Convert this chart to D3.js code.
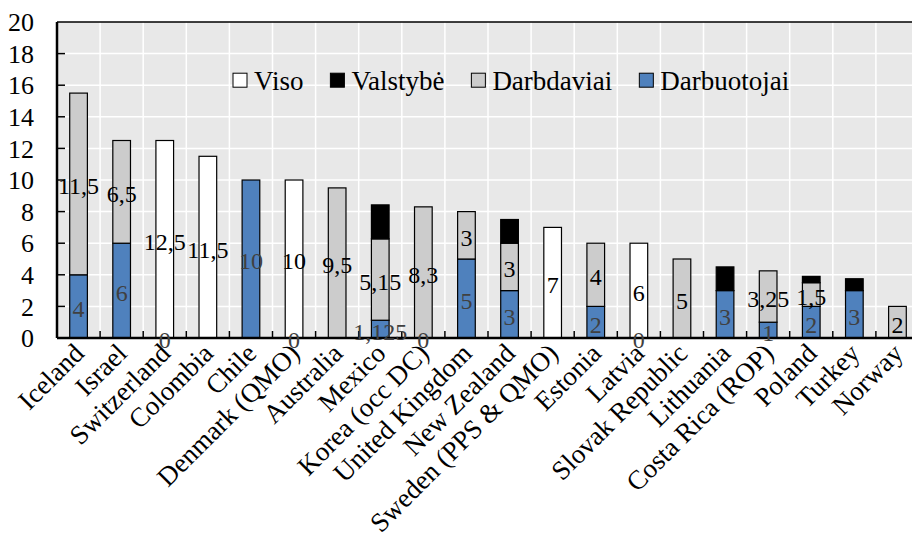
<!DOCTYPE html>
<html>
<head>
<meta charset="utf-8">
<script src="https://cdn.jsdelivr.net/npm/d3@7"></script>
<style>
  body { margin: 0; background: #fff; }
  svg { display: block; }
  svg text { font-family: "Liberation Serif", "Times New Roman", serif; }
</style>
</head>
<body>
<svg></svg>
<script>
// Chart data (null = no bar / no label)
var categories = ["Iceland", "Israel", "Switzerland", "Colombia", "Chile", "Denmark (QMO)",
  "Australia", "Mexico", "Korea (occ DC)", "United Kingdom", "New Zealand",
  "Sweden (PPS & QMO)", "Estonia", "Latvia", "Slovak Republic", "Lithuania",
  "Costa Rica (ROP)", "Poland", "Turkey", "Norway"];

var darbuotojai = [4, 6, 0, null, 10, 0, null, 1.125, 0, 5, 3, null, 2, 0, null, 3, 1, 2, 3, null];
var darbdaviai  = [11.5, 6.5, null, null, null, null, 9.5, 5.15, 8.3, 3, 3, null, 4, null, 5, null, 3.25, 1.5, null, 2];
var valstybe    = [null, null, null, null, null, null, null, 2.15, null, null, 1.5, null, null, null, null, 1.5, null, 0.4, 0.75, null];
var viso        = [null, null, 12.5, 11.5, null, 10, null, null, null, null, null, 7, null, 6, null, null, null, null, null, null];

var yTicks = [0, 2, 4, 6, 8, 10, 12, 14, 16, 18, 20];

// stacking order bottom -> top, legend shows it reversed
var series = [
  { name: "Darbuotojai", values: darbuotojai, fill: "#4f81bd", label: "#404040" },
  { name: "Darbdaviai",  values: darbdaviai,  fill: "#cccccc", label: "#000" },
  { name: "Valstybė",    values: valstybe,    fill: "#000000", label: null },
  { name: "Viso",        values: viso,        fill: "#ffffff", label: "#000" }
];

var width = 912, height = 537;
var margin = { top: 22, left: 57, bottom: 199 };
var plotW = 862, plotH = height - margin.top - margin.bottom;

var svg = d3.select("svg").attr("width", width).attr("height", height);
var g = svg.append("g").attr("transform", "translate(" + margin.left + "," + margin.top + ")");

var x = d3.scaleBand().domain(categories).range([0, plotW]).padding(0);
var y = d3.scaleLinear().domain([0, 20]).range([plotH, 0]);
var barW = x.bandwidth() * 0.41;

var fmt = function (v) { return String(v).replace(".", ","); };

// plot background + grid
g.append("rect").attr("width", plotW).attr("height", plotH).attr("fill", "#e8e8e8");

g.selectAll(".hgrid").data(yTicks.slice(1, -1)).enter().append("line")
    .attr("x1", 0).attr("x2", plotW)
    .attr("y1", function (d) { return y(d); }).attr("y2", function (d) { return y(d); })
    .attr("stroke", "#fff").attr("stroke-width", 1.5);

g.selectAll(".vgrid").data(categories.slice(1)).enter().append("line")
    .attr("x1", function (d) { return x(d); }).attr("x2", function (d) { return x(d); })
    .attr("y1", 0).attr("y2", plotH)
    .attr("stroke", "#fff").attr("stroke-width", 1.5);

// stacked bars
var stacks = categories.map(function () { return 0; });
var segs = [];
series.forEach(function (s) {
  s.values.forEach(function (v, i) {
    if (v === null) return;
    segs.push({ s: s, cat: categories[i], y0: stacks[i], y1: stacks[i] + v, v: v });
    stacks[i] += v;
  });
});

g.selectAll(".bar").data(segs.filter(function (d) { return d.v > 0; })).enter().append("rect")
    .attr("x", function (d) { return x(d.cat) + (x.bandwidth() - barW) / 2; })
    .attr("y", function (d) { return y(d.y1); })
    .attr("width", barW)
    .attr("height", function (d) { return y(d.y0) - y(d.y1); })
    .attr("fill", function (d) { return d.s.fill; })
    .attr("stroke", "#000").attr("stroke-width", 1.2);

// axes lines
g.append("line").attr("x1", 0).attr("x2", plotW).attr("y1", 0).attr("y2", 0)
    .attr("stroke", "#000").attr("stroke-width", 1.5);
g.append("line").attr("x1", 0).attr("x2", 0).attr("y1", 0).attr("y2", plotH)
    .attr("stroke", "#000").attr("stroke-width", 2.5);
g.append("line").attr("x1", 0).attr("x2", plotW).attr("y1", plotH).attr("y2", plotH)
    .attr("stroke", "#000").attr("stroke-width", 2.5);

// inside tick marks
g.selectAll(".ytick").data(yTicks.slice(1, -1)).enter().append("line")
    .attr("x1", 0).attr("x2", 8)
    .attr("y1", function (d) { return y(d); }).attr("y2", function (d) { return y(d); })
    .attr("stroke", "#000").attr("stroke-width", 1.5);
g.selectAll(".xtick").data(categories.slice(1)).enter().append("line")
    .attr("x1", function (d) { return x(d); }).attr("x2", function (d) { return x(d); })
    .attr("y1", plotH).attr("y2", plotH - 7)
    .attr("stroke", "#000").attr("stroke-width", 1.5);

// data labels
g.selectAll(".dlabel").data(segs.filter(function (d) { return d.s.label; })).enter().append("text")
    .attr("x", function (d) { return x(d.cat) + x.bandwidth() / 2; })
    .attr("y", function (d) { return y((d.y0 + d.y1) / 2) + 2; })
    .attr("dy", "0.35em")
    .attr("text-anchor", "middle")
    .attr("font-size", 24)
    .attr("fill", function (d) { return d.s.label; })
    .text(function (d) { return fmt(d.v); });

// y tick labels
g.selectAll(".ylabel").data(yTicks).enter().append("text")
    .attr("x", -23).attr("y", function (d) { return y(d); })
    .attr("dy", "0.35em").attr("text-anchor", "end")
    .attr("font-size", 26)
    .text(function (d) { return d; });

// category labels
g.selectAll(".xlabel").data(categories).enter().append("text")
    .attr("transform", function (d) {
      return "translate(" + (x(d) + x.bandwidth() / 2 + 7) + "," + (plotH + 17) + ") rotate(-45)";
    })
    .attr("text-anchor", "end")
    .attr("font-size", 27)
    .text(function (d) { return d; });

// legend
var legend = g.append("g").attr("transform", "translate(176," + (y(16) - 5) + ")");
var lx = 0;
series.slice().reverse().forEach(function (s) {
  var item = legend.append("g").attr("transform", "translate(" + lx + ",0)");
  item.append("rect").attr("x", 0).attr("y", -7).attr("width", 14).attr("height", 14)
      .attr("fill", s.fill).attr("stroke", "#000").attr("stroke-width", 1);
  var t = item.append("text").attr("x", 21).attr("dy", "0.35em")
      .attr("font-size", 27).text(s.name);
  lx += 21 + t.node().getComputedTextLength() + 27;
});
</script>
</body>
</html>
